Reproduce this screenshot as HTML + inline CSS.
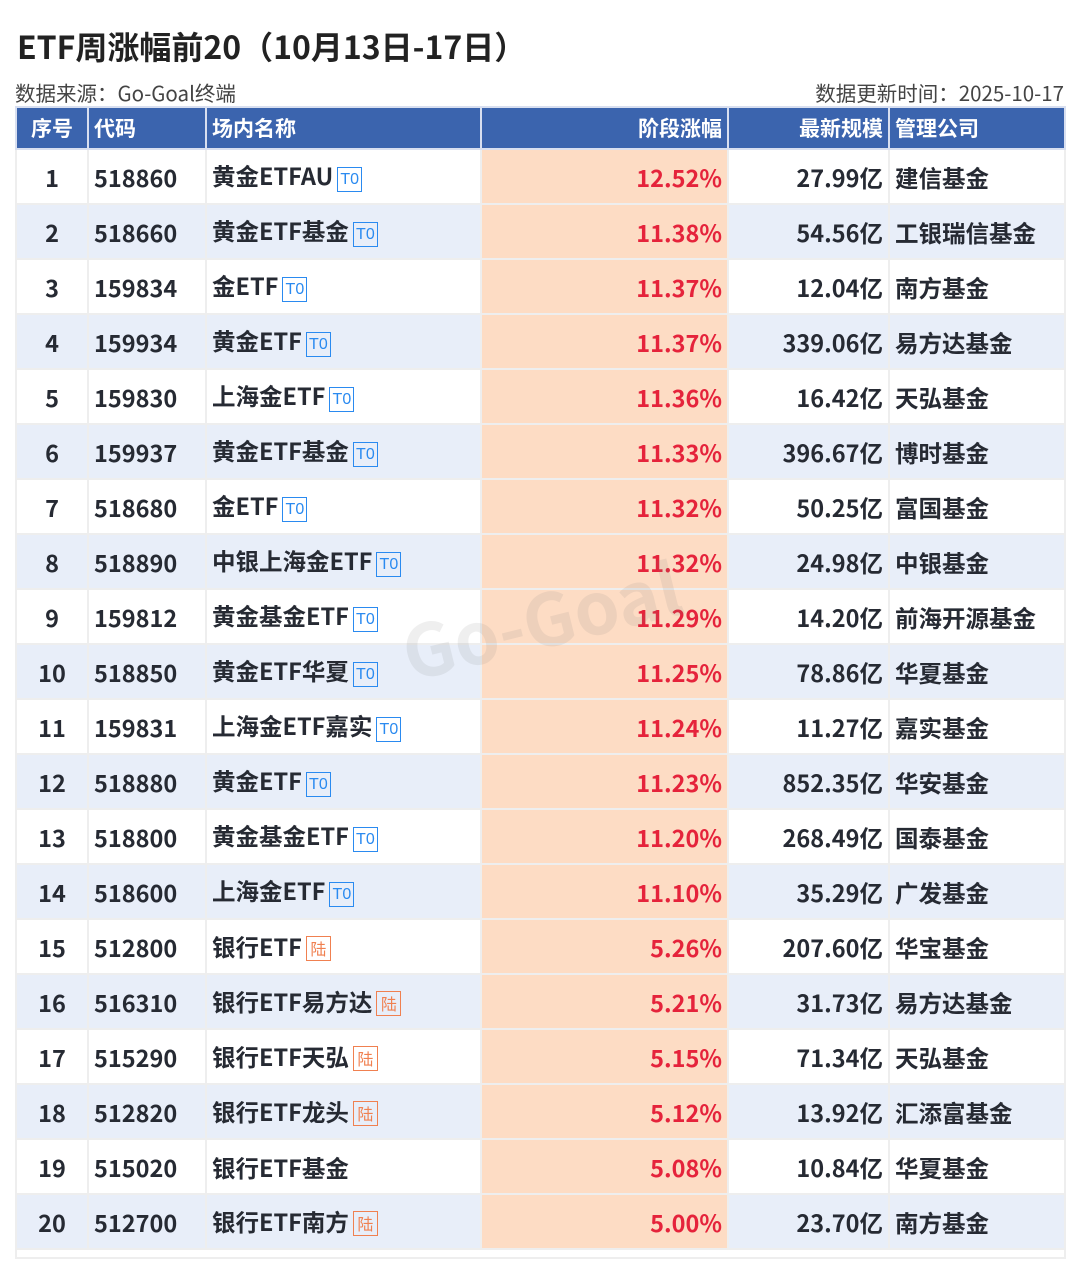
<!DOCTYPE html>
<html><head><meta charset="utf-8"><style>
body{margin:0;width:1080px;height:1288px;background:#fff;font-family:"Noto Sans CJK SC","Liberation Sans",sans-serif;position:relative;overflow:hidden}
.title{position:absolute;left:17px;top:25px;font-size:32px;line-height:42px;font-weight:bold;color:#222}
.src{position:absolute;left:15px;top:79px;font-size:20.5px;line-height:26px;color:#444}
.upd{position:absolute;right:16px;top:79px;font-size:20.5px;line-height:26px;color:#444}
table{position:absolute;left:15px;top:106px;border-collapse:collapse;table-layout:fixed;width:1049px}
td,th{padding:0 5px;border:2px solid #eee;white-space:nowrap;overflow:hidden;line-height:28px}
th{background:#3b64ae;color:#fff;height:40px;font-size:21px;text-align:left;border-color:#d8dff0}
td{height:53px;font-size:23.5px;font-weight:bold;color:#262a33}
tr.e td{background:#e8eef9}
td.c{background:#fddcc4!important;color:#e5233b;text-align:right}
.r{text-align:right}.ct{text-align:center}
.t{display:inline-block;font-family:"Liberation Sans",sans-serif;font-size:16px;font-weight:normal;border:1.5px solid #2a8af0;color:#2a8af0;width:23px;height:23px;line-height:23px;text-align:center;margin-left:4px;vertical-align:1px}
.l{border-color:#f08050;color:#f08050;font-family:"Noto Sans CJK SC",sans-serif}
.wm{position:absolute;left:390px;top:600px;font-size:72px;font-weight:bold;color:rgba(120,120,120,0.12);transform:rotate(-14deg);transform-origin:left top}
.bot{position:absolute;left:15px;top:1249px;width:1047px;height:8px;border:2px solid #eee;border-top:none}
</style></head><body>
<div class="title">ETF周涨幅前20（10月13日-17日）</div>
<div class="src">数据来源：Go-Goal终端</div>
<div class="upd">数据更新时间：2025-10-17</div>
<table>
<colgroup><col style="width:72px"><col style="width:118px"><col style="width:275px"><col style="width:247px"><col style="width:161px"><col style="width:176px"></colgroup>
<tr><th class="ct">序号</th><th>代码</th><th>场内名称</th><th class="r">阶段涨幅</th><th class="r">最新规模</th><th>管理公司</th></tr>
<tr><td class="ct">1</td><td>518860</td><td>黄金ETFAU<span class="t">T0</span></td><td class="c">12.52%</td><td class="r">27.99亿</td><td>建信基金</td></tr>
<tr class="e"><td class="ct">2</td><td>518660</td><td>黄金ETF基金<span class="t">T0</span></td><td class="c">11.38%</td><td class="r">54.56亿</td><td>工银瑞信基金</td></tr>
<tr><td class="ct">3</td><td>159834</td><td>金ETF<span class="t">T0</span></td><td class="c">11.37%</td><td class="r">12.04亿</td><td>南方基金</td></tr>
<tr class="e"><td class="ct">4</td><td>159934</td><td>黄金ETF<span class="t">T0</span></td><td class="c">11.37%</td><td class="r">339.06亿</td><td>易方达基金</td></tr>
<tr><td class="ct">5</td><td>159830</td><td>上海金ETF<span class="t">T0</span></td><td class="c">11.36%</td><td class="r">16.42亿</td><td>天弘基金</td></tr>
<tr class="e"><td class="ct">6</td><td>159937</td><td>黄金ETF基金<span class="t">T0</span></td><td class="c">11.33%</td><td class="r">396.67亿</td><td>博时基金</td></tr>
<tr><td class="ct">7</td><td>518680</td><td>金ETF<span class="t">T0</span></td><td class="c">11.32%</td><td class="r">50.25亿</td><td>富国基金</td></tr>
<tr class="e"><td class="ct">8</td><td>518890</td><td>中银上海金ETF<span class="t">T0</span></td><td class="c">11.32%</td><td class="r">24.98亿</td><td>中银基金</td></tr>
<tr><td class="ct">9</td><td>159812</td><td>黄金基金ETF<span class="t">T0</span></td><td class="c">11.29%</td><td class="r">14.20亿</td><td>前海开源基金</td></tr>
<tr class="e"><td class="ct">10</td><td>518850</td><td>黄金ETF华夏<span class="t">T0</span></td><td class="c">11.25%</td><td class="r">78.86亿</td><td>华夏基金</td></tr>
<tr><td class="ct">11</td><td>159831</td><td>上海金ETF嘉实<span class="t">T0</span></td><td class="c">11.24%</td><td class="r">11.27亿</td><td>嘉实基金</td></tr>
<tr class="e"><td class="ct">12</td><td>518880</td><td>黄金ETF<span class="t">T0</span></td><td class="c">11.23%</td><td class="r">852.35亿</td><td>华安基金</td></tr>
<tr><td class="ct">13</td><td>518800</td><td>黄金基金ETF<span class="t">T0</span></td><td class="c">11.20%</td><td class="r">268.49亿</td><td>国泰基金</td></tr>
<tr class="e"><td class="ct">14</td><td>518600</td><td>上海金ETF<span class="t">T0</span></td><td class="c">11.10%</td><td class="r">35.29亿</td><td>广发基金</td></tr>
<tr><td class="ct">15</td><td>512800</td><td>银行ETF<span class="t l">陆</span></td><td class="c">5.26%</td><td class="r">207.60亿</td><td>华宝基金</td></tr>
<tr class="e"><td class="ct">16</td><td>516310</td><td>银行ETF易方达<span class="t l">陆</span></td><td class="c">5.21%</td><td class="r">31.73亿</td><td>易方达基金</td></tr>
<tr><td class="ct">17</td><td>515290</td><td>银行ETF天弘<span class="t l">陆</span></td><td class="c">5.15%</td><td class="r">71.34亿</td><td>天弘基金</td></tr>
<tr class="e"><td class="ct">18</td><td>512820</td><td>银行ETF龙头<span class="t l">陆</span></td><td class="c">5.12%</td><td class="r">13.92亿</td><td>汇添富基金</td></tr>
<tr><td class="ct">19</td><td>515020</td><td>银行ETF基金</td><td class="c">5.08%</td><td class="r">10.84亿</td><td>华夏基金</td></tr>
<tr class="e"><td class="ct">20</td><td>512700</td><td>银行ETF南方<span class="t l">陆</span></td><td class="c">5.00%</td><td class="r">23.70亿</td><td>南方基金</td></tr>
</table>
<div class="bot"></div>
<div class="wm">Go-Goal</div>
</body></html>
